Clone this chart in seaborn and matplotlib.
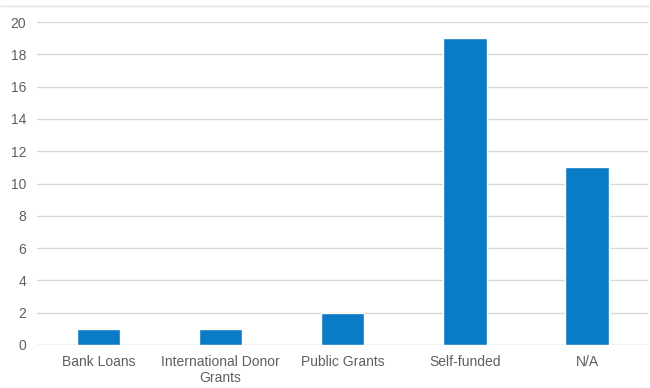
import matplotlib
matplotlib.use("Agg")
import matplotlib.pyplot as plt
import seaborn as sns
import pandas as pd

categories = ["Bank Loans", "International Donor\nGrants", "Public Grants", "Self-funded", "N/A"]
counts = [1, 1, 2, 19, 11]
y_ticks = [0, 2, 4, 6, 8, 10, 12, 14, 16, 18, 20]

sns.set_theme(style="white")
plt.rcParams["font.family"] = ["Liberation Sans", "DejaVu Sans"]

df = pd.DataFrame({"source": categories, "count": counts})

fig = plt.figure(figsize=(6.5, 3.88), dpi=100)
ax = fig.add_axes([0.0572, 0.111, 0.940, 0.832])

sns.barplot(data=df, x="source", y="count", color="#0a7bc6", width=0.356,
            saturation=1, ax=ax, zorder=3)

ax.set_ylim(0, 20)
ax.set_yticks(y_ticks)
ax.yaxis.grid(True, color="#d9d9d9", linewidth=1)
ax.set_axisbelow(True)
for s in ax.spines.values():
    s.set_visible(False)
ax.axhline(0, color="#d9d9d9", linewidth=1, zorder=2)
ax.set_xlabel("")
ax.set_ylabel("")
ax.tick_params(axis="both", length=0, labelsize=10, labelcolor="#5f5f5f")
ax.tick_params(axis="y", pad=8)
ax.tick_params(axis="x", pad=7)

# light frame line across the top of the figure
fig.add_artist(plt.Line2D([0, 1], [0.985, 0.985], transform=fig.transFigure,
                          color="#e3e3e3", linewidth=1))

fig.savefig("out.png", dpi=100, facecolor="white")
